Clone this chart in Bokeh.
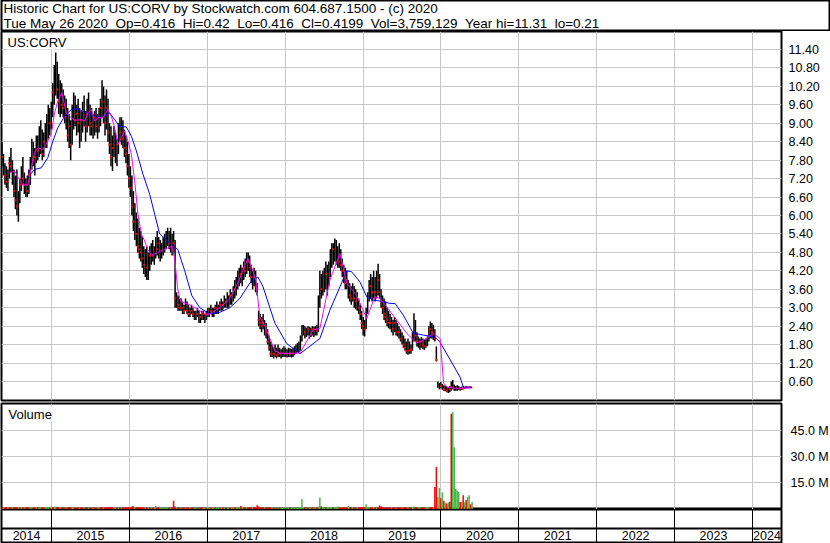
import pandas as pd
from bokeh.plotting import figure
from bokeh.layouts import column, row
from bokeh.models import (Range1d, FixedTicker, Grid, Label, ColumnDataSource,
                          PrintfTickFormatter, CustomJSTickFormatter, Span)
from bokeh.embed import file_html
from bokeh.resources import INLINE
from bokeh.core.properties import value

# ---------------- texts ----------------
TITLE_1 = "Historic Chart for US:CORV by Stockwatch.com 604.687.1500 - (c) 2020"
TITLE_2 = "Tue May 26 2020  Op=0.416  Hi=0.42  Lo=0.416  Cl=0.4199  Vol=3,759,129  Year hi=11.31  lo=0.21"
SYMBOL = "US:CORV"
VOL_LABEL = "Volume"

# ---------------- data (weekly) ----------------
first_week = "2014-05-13"
highs = [
    8.4, 8.0, 7.7, 7.6, 7.5, 7.9, 8.2, 7.8, 7.5, 7.3,
    7.5, 6.8, 7.2, 7.6, 7.9, 7.4, 7.2, 7.3, 7.5, 7.9,
    8.5, 8.4, 8.2, 8.6, 8.6, 8.9, 9.1, 8.8, 8.7, 9.0,
    9.3, 9.6, 9.5, 9.7, 10.3, 10.9, 11.3, 11.0, 10.6, 10.4,
    10.3, 10.1, 9.9, 9.8, 9.5, 9.3, 9.1, 9.6, 10.0, 9.9,
    9.6, 9.8, 9.5, 9.4, 9.7, 9.9, 9.4, 9.8, 10.0, 9.6,
    9.5, 9.3, 9.4, 9.5, 9.3, 9.5, 9.8, 10.4, 10.2, 9.9,
    10.1, 9.8, 9.0, 8.9, 8.6, 8.9, 8.7, 8.5, 9.0, 9.2,
    9.2, 9.1, 8.8, 8.6, 8.4, 8.0, 7.6, 7.3, 6.8, 6.4,
    6.1, 5.9, 5.6, 5.5, 5.3, 5.0, 4.9, 5.0, 4.8, 5.0,
    5.1, 5.2, 5.0, 5.3, 5.5, 5.3, 5.2, 5.1, 5.3, 5.4,
    5.5, 5.6, 5.5, 5.6, 5.4, 5.5, 5.2, 3.5, 3.4, 3.3,
    3.3, 3.2, 3.1, 3.3, 3.2, 3.1, 3.0, 3.1, 3.0, 2.9,
    2.9, 3.0, 2.9, 2.8, 2.9, 2.9, 2.8, 2.9, 3.0, 3.0,
    3.1, 3.0, 3.0, 3.1, 3.2, 3.1, 3.2, 3.3, 3.2, 3.4,
    3.3, 3.5, 3.4, 3.6, 3.5, 3.7, 3.9, 4.0, 4.2, 4.3,
    4.4, 4.3, 4.5, 4.6, 4.8, 4.8, 4.7, 4.4, 4.2, 4.3,
    4.2, 3.8, 2.9, 2.8, 2.7, 2.8, 2.6, 2.5, 2.3, 2.1,
    1.9, 1.8, 1.7, 1.8, 1.7, 1.8, 1.7, 1.65, 1.7, 1.75,
    1.7, 1.65, 1.7, 1.68, 1.66, 1.7, 1.75, 1.8, 1.85, 1.9,
    2.1, 2.44, 2.44, 2.4, 2.35, 2.4, 2.38, 2.35, 2.4, 2.38,
    2.4, 2.45, 3.4, 4.2, 4.1, 4.2, 4.3, 4.5, 4.4, 4.5,
    4.9, 5.1, 5.1, 5.25, 5.2, 5.0, 5.1, 4.9, 4.6, 4.4,
    4.3, 4.2, 3.9, 3.8, 3.7, 3.8, 3.7, 3.6, 3.5, 3.3,
    3.1, 2.9, 2.7, 2.6, 3.0, 3.5, 3.9, 4.1, 4.0, 4.2,
    4.0, 4.2, 4.43, 4.1, 3.6, 3.4, 3.3, 3.2, 3.0, 2.9,
    2.8, 2.7, 2.6, 2.7, 2.6, 2.5, 2.4, 2.3, 2.2, 2.1,
    2.0, 1.9, 2.0, 1.9, 1.8, 2.2, 2.82, 2.6, 2.2, 2.06,
    2.0, 2.05, 2.0, 1.95, 2.0, 2.06, 2.4, 2.55, 2.5, 2.45,
    2.3, 1.74, 0.6, 0.55, 0.58, 0.52, 0.48, 0.45, 0.42, 0.4,
    0.45, 0.6, 0.65, 0.5, 0.45, 0.48, 0.45, 0.42, 0.44, 0.45,
    0.43, 0.45, 0.44, 0.44, 0.43, 0.42]
lows = [
    7.6, 7.3, 7.0, 6.9, 6.8, 7.2, 7.4, 7.0, 6.6, 6.2,
    6.0, 5.8, 6.4, 6.8, 7.0, 6.7, 6.6, 6.6, 6.7, 7.0,
    7.5, 7.6, 7.3, 7.7, 7.8, 7.9, 8.0, 7.8, 7.9, 8.2,
    8.2, 8.5, 8.6, 8.8, 9.2, 9.6, 9.9, 9.8, 9.3, 9.2,
    9.3, 9.2, 9.0, 8.8, 8.4, 8.2, 7.8, 8.3, 8.8, 8.9,
    8.6, 8.7, 8.2, 8.4, 8.7, 8.9, 8.4, 8.7, 8.9, 8.6,
    8.6, 8.5, 8.6, 8.7, 8.5, 8.7, 8.9, 9.2, 9.0, 8.6,
    8.8, 8.4, 8.0, 7.6, 7.45, 7.9, 7.7, 7.6, 8.0, 8.4,
    8.3, 8.2, 7.9, 7.7, 7.3, 6.9, 6.6, 6.0, 5.5, 5.2,
    5.0, 4.8, 4.6, 4.5, 4.3, 4.1, 4.0, 3.9, 3.9, 4.2,
    4.4, 4.5, 4.4, 4.6, 4.7, 4.6, 4.5, 4.6, 4.7, 4.8,
    4.9, 5.0, 4.9, 4.8, 4.7, 4.8, 3.0, 3.0, 2.9, 2.9,
    2.9, 2.8, 2.8, 2.9, 2.8, 2.7, 2.7, 2.8, 2.7, 2.6,
    2.6, 2.7, 2.5, 2.5, 2.6, 2.6, 2.5, 2.6, 2.7, 2.7,
    2.8, 2.7, 2.7, 2.8, 2.8, 2.8, 2.9, 2.9, 2.9, 3.0,
    3.0, 3.0, 3.0, 3.1, 3.1, 3.2, 3.3, 3.4, 3.6, 3.7,
    3.8, 3.7, 3.9, 4.0, 4.1, 4.2, 4.0, 3.8, 3.6, 3.7,
    3.5, 3.4, 2.4, 2.3, 2.2, 2.3, 2.1, 2.0, 1.8, 1.6,
    1.4, 1.4, 1.35, 1.4, 1.35, 1.4, 1.4, 1.35, 1.4, 1.4,
    1.4, 1.38, 1.4, 1.4, 1.38, 1.4, 1.45, 1.5, 1.55, 1.55,
    1.6, 1.9, 2.1, 2.0, 2.05, 2.1, 2.0, 2.05, 2.1, 2.05,
    2.1, 2.1, 2.2, 3.0, 3.3, 3.4, 3.5, 3.6, 3.4, 3.7,
    4.0, 4.3, 4.4, 4.5, 4.4, 4.3, 4.3, 4.2, 4.0, 3.8,
    3.6, 3.6, 3.3, 3.2, 3.1, 3.2, 3.0, 2.95, 2.9, 2.8,
    2.6, 2.3, 2.1, 2.06, 2.3, 2.8, 3.2, 3.3, 3.2, 3.3,
    3.2, 3.3, 3.4, 3.3, 3.0, 2.8, 2.6, 2.5, 2.4, 2.33,
    2.3, 2.2, 2.1, 2.2, 2.1, 2.06, 2.0, 1.9, 1.8, 1.7,
    1.6, 1.5, 1.47, 1.5, 1.5, 1.6, 1.9, 1.9, 1.74, 1.7,
    1.63, 1.7, 1.65, 1.63, 1.7, 1.75, 1.9, 2.0, 2.0, 1.95,
    1.9, 1.25, 0.4, 0.35, 0.38, 0.33, 0.3, 0.28, 0.25, 0.23,
    0.25, 0.3, 0.35, 0.3, 0.3, 0.3, 0.32, 0.3, 0.32, 0.34,
    0.36, 0.38, 0.38, 0.39, 0.40, 0.41]
closes = [
    7.9, 7.5, 7.3, 7.1, 7.3, 7.7, 7.6, 7.2, 6.8, 6.5,
    6.3, 6.6, 7.0, 7.3, 7.2, 6.9, 7.0, 6.8, 7.3, 7.6,
    8.2, 7.8, 7.9, 8.3, 8.1, 8.5, 8.3, 8.0, 8.4, 8.7,
    8.8, 9.2, 9.0, 9.5, 10.0, 10.2, 10.6, 10.1, 9.7, 9.9,
    9.6, 9.5, 9.2, 9.0, 8.6, 8.9, 8.3, 9.2, 9.4, 9.1,
    9.3, 9.0, 8.8, 9.1, 9.4, 9.2, 8.9, 9.3, 9.2, 9.0,
    8.9, 9.0, 9.2, 8.9, 9.1, 9.3, 9.5, 9.7, 9.4, 9.0,
    9.5, 8.7, 8.3, 7.9, 8.2, 8.5, 8.0, 8.3, 8.8, 8.7,
    8.9, 8.5, 8.2, 8.0, 7.6, 7.2, 6.9, 6.3, 5.8, 5.5,
    5.4, 5.0, 4.9, 4.8, 4.6, 4.4, 4.6, 4.3, 4.5, 4.7,
    4.8, 4.7, 4.9, 5.0, 4.9, 5.1, 4.8, 4.9, 5.1, 5.0,
    5.2, 5.3, 5.1, 5.2, 5.0, 5.1, 3.3, 3.2, 3.1, 3.0,
    3.1, 3.0, 2.9, 3.0, 2.9, 2.8, 2.9, 2.9, 2.8, 2.7,
    2.8, 2.8, 2.6, 2.7, 2.8, 2.7, 2.7, 2.8, 2.9, 2.8,
    2.9, 2.8, 2.9, 3.0, 3.0, 2.9, 3.1, 3.0, 3.1, 3.2,
    3.2, 3.3, 3.2, 3.4, 3.3, 3.5, 3.6, 3.8, 3.9, 4.0,
    4.1, 4.2, 4.3, 4.2, 4.6, 4.5, 4.3, 4.0, 3.9, 4.0,
    3.7, 3.6, 2.6, 2.5, 2.4, 2.5, 2.2, 2.2, 1.9, 1.7,
    1.5, 1.6, 1.5, 1.6, 1.45, 1.6, 1.5, 1.5, 1.55, 1.6,
    1.5, 1.55, 1.6, 1.5, 1.55, 1.6, 1.6, 1.65, 1.7, 1.75,
    1.9, 2.2, 2.3, 2.2, 2.25, 2.3, 2.2, 2.25, 2.3, 2.2,
    2.3, 2.25, 3.1, 3.8, 3.6, 3.9, 4.0, 4.1, 3.8, 4.2,
    4.6, 4.7, 4.9, 4.8, 4.7, 4.6, 4.5, 4.4, 4.2, 4.0,
    3.8, 3.9, 3.5, 3.4, 3.3, 3.6, 3.3, 3.2, 3.1, 3.0,
    2.8, 2.5, 2.4, 2.3, 2.8, 3.3, 3.6, 3.7, 3.5, 3.8,
    3.5, 3.7, 3.9, 3.5, 3.2, 3.0, 2.8, 2.7, 2.6, 2.5,
    2.5, 2.4, 2.3, 2.5, 2.3, 2.2, 2.2, 2.0, 1.9, 1.8,
    1.7, 1.6, 1.7, 1.6, 1.65, 1.9, 2.4, 2.1, 1.9, 1.8,
    1.8, 1.9, 1.8, 1.75, 1.9, 1.95, 2.2, 2.3, 2.2, 2.3,
    2.0, 1.3, 0.45, 0.42, 0.45, 0.4, 0.36, 0.33, 0.3, 0.28,
    0.35, 0.42, 0.45, 0.38, 0.36, 0.4, 0.38, 0.36, 0.4, 0.4,
    0.4, 0.42, 0.41, 0.42, 0.42, 0.4199]
volume_m = [
    0.8, 0.6, 0.7, 0.9, 0.6, 0.8, 0.7, 0.6, 0.9, 0.7,
    1.0, 0.8, 0.6, 0.7, 0.8, 0.6, 0.7, 0.9, 0.6, 0.8,
    0.7, 0.6, 0.8, 0.7, 0.9, 0.6, 0.7, 0.8, 0.6, 0.7,
    0.8, 0.9, 0.7, 0.8, 1.0, 1.1, 1.2, 0.9, 0.8, 0.7,
    0.8, 0.6, 0.7, 0.8, 0.7, 0.9, 1.0, 0.8, 0.7, 0.6,
    0.7, 0.6, 0.8, 0.7, 0.6, 0.7, 0.6, 0.8, 0.7, 0.6,
    0.6, 0.7, 0.6, 0.5, 0.7, 0.6, 0.8, 0.9, 0.7, 0.6,
    0.7, 0.8, 0.7, 0.9, 0.8, 0.6, 0.7, 0.6, 0.7, 0.6,
    0.6, 0.7, 0.6, 0.7, 0.8, 0.9, 0.8, 1.2, 1.4, 1.0,
    0.9, 0.8, 0.7, 0.8, 0.7, 0.6, 0.8, 0.9, 0.7, 0.6,
    0.6, 0.7, 0.6, 1.5, 0.7, 0.6, 0.5, 0.6, 0.7, 0.6,
    0.6, 0.7, 0.6, 0.7, 0.8, 4.6, 1.3, 0.9, 0.7, 0.6,
    0.6, 0.5, 0.6, 0.5, 0.6, 0.5, 0.6, 0.5, 0.6, 0.5,
    0.5, 0.6, 0.5, 0.6, 0.5, 0.5, 0.6, 0.5, 0.6, 0.5,
    0.5, 0.6, 0.5, 0.6, 0.5, 0.6, 0.5, 0.6, 0.6, 0.7,
    0.6, 0.7, 0.6, 0.7, 0.8, 0.7, 0.8, 0.9, 0.8, 0.9,
    1.5, 0.8, 0.7, 0.8, 0.9, 0.8, 0.7, 0.6, 0.7, 0.8,
    0.9, 2.0, 1.2, 0.8, 0.7, 0.6, 0.7, 0.6, 0.7, 0.8,
    0.7, 0.6, 0.5, 0.6, 0.5, 0.6, 0.5, 0.6, 0.5, 0.6,
    0.5, 0.6, 0.5, 0.6, 0.5, 0.6, 0.7, 0.6, 0.7, 0.8,
    1.0, 5.5, 1.0, 0.8, 0.7, 0.6, 0.7, 0.6, 0.7, 0.6,
    0.7, 0.8, 1.2, 6.4, 1.4, 0.9, 0.8, 0.7, 0.8, 0.7,
    0.8, 0.9, 0.8, 0.9, 0.8, 1.2, 0.7, 0.6, 0.7, 0.8,
    0.7, 0.8, 1.5, 0.7, 0.6, 0.7, 0.6, 0.5, 0.6, 0.7,
    0.8, 0.9, 0.8, 0.9, 2.6, 1.1, 0.9, 0.8, 0.7, 0.8,
    0.7, 0.8, 1.0, 1.8, 1.4, 0.8, 0.7, 0.6, 0.7, 0.6,
    0.7, 0.6, 0.8, 0.7, 0.6, 0.9, 0.7, 0.8, 0.7, 0.6,
    0.7, 0.8, 0.9, 0.7, 0.8, 1.0, 1.2, 0.9, 0.8, 0.7,
    0.8, 0.7, 0.6, 0.7, 0.8, 0.7, 0.9, 1.0, 0.9, 1.0,
    12.5, 24.0, 6.7, 11.9, 6.0, 9.4, 4.5, 3.5, 3.0, 3.5,
    4.0, 54.8, 55.7, 35.5, 11.5, 10.5, 9.6, 3.8, 4.0, 7.7,
    3.5, 5.0, 6.7, 7.7, 2.5, 3.8]
# u = up week (green volume), d = down week (red volume / red close mark)
vol_dir = ("dudduddudd" "dudududddu" "udduduuddu" "uududuuddu" "ddduddduud"
           "ddudduddud" "dudduuddud" "ddddduudud" "uddddddddu" "ddddddudud"
           "uduudduuuu" "uududddudd" "uddudduddu" "ududduuduu" "duuduududu"
           "duuduuduuu" "duddudddud" "dddddduddd" "dudududuuu" "duuduuuuuu"
           "uuududuudu" "uduuduuduu" "uuduuudddd" "ddudduddud" "dddduuuddu"
           "dudddddddd" "duddudddud" "ddudduuddu" "uddduuuddu" "dduudududu"
           "dduuuuudud" "uduudu")

# short moving average (magenta) and long moving average (blue)
ma_fast_x = [2014.460, 2014.524, 2014.588, 2014.631, 2014.695, 2014.739, 2014.781, 2014.824,
             2014.888, 2014.952, 2014.996, 2015.038, 2015.081, 2015.132, 2015.189, 2015.231,
             2015.296, 2015.382, 2015.424, 2015.467, 2015.510, 2015.553, 2015.595, 2015.660,
             2015.724, 2015.767, 2015.810, 2015.852, 2015.896, 2015.939, 2015.981, 2016.025,
             2016.067, 2016.110, 2016.153, 2016.196, 2016.234, 2016.286, 2016.363, 2016.453,
             2016.543, 2016.581, 2016.620, 2016.659, 2016.774, 2016.903, 2016.993, 2017.096,
             2017.186, 2017.289, 2017.391, 2017.456, 2017.520, 2017.571, 2017.623, 2017.674,
             2017.739, 2017.803, 2017.868, 2017.932, 2018.189, 2018.360, 2018.446, 2018.574,
             2018.703, 2018.789, 2018.918, 2019.046, 2019.153, 2019.217, 2019.303, 2019.432,
             2019.560, 2019.689, 2019.817, 2019.902, 2019.963, 2019.989, 2020.034, 2020.078,
             2020.181, 2020.400]
ma_fast_y = [7.39, 7.45, 7.17, 6.99, 6.99, 7.55, 8.05, 8.20,
             8.15, 8.42, 8.64, 9.34, 9.72, 10.00, 9.34, 9.23,
             9.10, 9.12, 9.07, 9.34, 9.45, 9.07, 9.18, 9.18,
             9.45, 9.23, 8.86, 8.31, 8.53, 8.75, 8.42, 7.99,
             7.12, 6.04, 5.39, 5.17, 4.90, 4.70, 4.80, 4.90,
             5.00, 4.60, 3.60, 3.20, 3.10, 2.90, 2.75, 2.90,
             3.05, 3.30, 3.80, 4.20, 4.60, 4.30, 3.90, 2.70,
             2.40, 2.00, 1.60, 1.52, 1.52, 2.28, 2.33, 3.90,
             4.76, 3.80, 3.40, 2.65, 3.36, 3.30, 3.03, 2.60,
             2.17, 1.85, 2.00, 2.17, 2.05, 2.00, 0.55, 0.42,
             0.38, 0.39]
ma_slow_x = [2014.695, 2014.781, 2014.867, 2014.952, 2015.017, 2015.081, 2015.167, 2015.253,
             2015.338, 2015.446, 2015.553, 2015.639, 2015.746, 2015.810, 2015.874, 2015.960,
             2016.025, 2016.089, 2016.174, 2016.260, 2016.324, 2016.388, 2016.517, 2016.620,
             2016.710, 2016.800, 2016.903, 2017.031, 2017.160, 2017.289, 2017.417, 2017.546,
             2017.649, 2017.713, 2017.803, 2017.868, 2017.932, 2018.017, 2018.189, 2018.446,
             2018.574, 2018.703, 2018.789, 2018.853, 2018.960, 2019.046, 2019.131, 2019.259,
             2019.346, 2019.410, 2019.516, 2019.645, 2019.774, 2019.924, 2019.989, 2020.246,
             2020.288, 2020.400]
ma_slow_y = [7.23, 7.50, 7.55, 7.88, 8.42, 8.86, 9.23, 9.45,
             9.47, 9.34, 9.23, 9.18, 9.34, 9.12, 8.90, 8.88,
             8.58, 8.10, 7.34, 6.69, 6.04, 5.40, 5.10, 4.90,
             4.20, 3.40, 3.00, 2.80, 2.85, 3.00, 3.30, 3.80,
             4.00, 3.70, 3.00, 2.50, 2.22, 1.84, 1.50, 2.00,
             2.92, 3.68, 4.20, 4.17, 3.84, 3.36, 3.25, 3.20,
             3.14, 3.14, 2.76, 2.17, 2.11, 2.04, 1.88, 0.74,
             0.41, 0.41]

price_ticks = [0.6, 1.2, 1.8, 2.4, 3.0, 3.6, 4.2, 4.8, 5.4, 6.0,
               6.6, 7.2, 7.8, 8.4, 9.0, 9.6, 10.2, 10.8, 11.4]
volume_ticks = [15e6, 30e6, 45e6]
years = list(range(2014, 2025))
x_start, x_end = 2014.357, 2024.373
price_lo, price_hi = -0.018, 11.986
volume_lo, volume_hi = -0.5e6, 60.7e6

# ---------------- derived series ----------------
n = min(len(highs), len(lows), len(closes), len(volume_m), len(vol_dir))
dates = pd.date_range(first_week, periods=n, freq="7D")
xs = [d.year + (d.dayofyear - 0.5) / (366 if d.is_leap_year else 365) for d in dates]
UP_GREEN = "#4cb848"
DOWN_RED = "#ff0000"
src = ColumnDataSource(dict(
    x=xs, hi=highs[:n], lo=lows[:n], cl=closes[:n],
    vol=[v_ * 1e6 for v_ in volume_m[:n]], base=[volume_lo] * n,
    vcol=[UP_GREEN if c == "u" else DOWN_RED for c in vol_dir[:n]],
))
down_idx = [i for i in range(n) if vol_dir[i] == "d"]
src_down = ColumnDataSource(dict(x=[xs[i] for i in down_idx], cl=[closes[i] for i in down_idx]))

# ---------------- layout ----------------
FONT = "Liberation Sans"
FW = 780          # frame width
LAB = 47          # label column
GRID = "#c8c8c8"
x_range = Range1d(x_start, x_end)


def panel(frame_h, y_range, mb_top, mb_bottom, axis=True):
    f = figure(frame_width=FW, frame_height=frame_h, x_range=x_range, y_range=y_range,
               x_axis_location=None, y_axis_location="right" if axis else None,
               toolbar_location=None, output_backend="svg",
               min_border_left=1, min_border_right=LAB,
               min_border_top=mb_top, min_border_bottom=mb_bottom)
    f.outline_line_color = "black"
    f.outline_line_width = 2
    f.outline_line_alpha = 1.0
    f.background_fill_color = "white"
    f.border_fill_color = "white"
    for g in f.grid:
        g.visible = False
    return f


def style_axis(f, ticks, formatter, standoff):
    ax = f.yaxis[0]
    ax.ticker = FixedTicker(ticks=ticks)
    ax.formatter = formatter
    ax.axis_line_color = None
    ax.major_tick_line_color = None
    ax.minor_tick_line_color = None
    ax.major_tick_out = 0
    ax.major_tick_in = 0
    ax.major_label_standoff = standoff
    ax.major_label_text_font = FONT
    ax.major_label_text_font_size = "12.5px"
    ax.major_label_text_color = "#000000"


# header
HH = 31
hdr = figure(frame_width=FW + LAB + 1, frame_height=HH, x_range=Range1d(0, 1), y_range=Range1d(0, 1),
             x_axis_location=None, y_axis_location=None, toolbar_location=None,
             output_backend="svg", min_border_left=1, min_border_right=1,
             min_border_top=0, min_border_bottom=0)
for g in hdr.grid:
    g.visible = False
hdr.outline_line_color = "black"
hdr.outline_line_width = 2
hdr.add_layout(Label(x=2, y=HH - 8, x_units="screen", y_units="screen", text=TITLE_1,
                     text_font=FONT, text_font_size="13.5px", text_baseline="middle",
                     text_color="black"))
hdr.add_layout(Label(x=2, y=HH - 23, x_units="screen", y_units="screen",
                     text=TITLE_2.replace("  ", " \u00a0"),
                     text_font=FONT, text_font_size="13.5px", text_baseline="middle",
                     text_color="black"))

# price panel
PH = 369
p = panel(PH, Range1d(price_lo, price_hi), 0, 2)
style_axis(p, price_ticks, PrintfTickFormatter(format="%.2f"), 7)
p.add_layout(Grid(dimension=0, ticker=FixedTicker(ticks=years), grid_line_color=GRID, grid_line_width=1))
p.add_layout(Grid(dimension=1, ticker=FixedTicker(ticks=price_ticks), grid_line_color=GRID, grid_line_width=1))
p.segment(x0="x", y0="lo", x1="x", y1="hi", source=src, line_color="black", line_width=1.5)
p.rect(x="x", y="cl", width=2, height=2, width_units="screen", height_units="screen",
       source=src_down, fill_color=DOWN_RED, line_color=None)
p.line(ma_slow_x, ma_slow_y, line_color="#0000ff", line_width=1)
p.line(ma_fast_x, ma_fast_y, line_color="#ff00ff", line_width=1)
p.add_layout(Label(x=6, y=PH - 3, x_units="screen", y_units="screen", text=SYMBOL,
                   text_font=FONT, text_font_size="13px", text_baseline="top",
                   text_color="black", background_fill_color="white"))

# volume panel
VH = 106
v = panel(VH, Range1d(volume_lo, volume_hi), 1, 0)
style_axis(v, volume_ticks, CustomJSTickFormatter(code="return (tick / 1e6).toFixed(1) + ' M';"), 9)
v.add_layout(Grid(dimension=0, ticker=FixedTicker(ticks=years), grid_line_color=GRID, grid_line_width=1))
v.add_layout(Grid(dimension=1, ticker=FixedTicker(ticks=volume_ticks), grid_line_color=GRID, grid_line_width=1))
v.segment(x0="x", y0="base", x1="x", y1="vol", source=src, line_color="vcol", line_width=1.5)
v.add_layout(Label(x=7, y=VH - 3, x_units="screen", y_units="screen", text=VOL_LABEL,
                   text_font=FONT, text_font_size="13px", text_baseline="top",
                   text_color="black", background_fill_color="white"))

# date strip
DH = 33
d = panel(DH, Range1d(0, DH), 0, 1, axis=False)
d.add_layout(Grid(dimension=0, ticker=FixedTicker(ticks=years), grid_line_color="black", grid_line_width=1))
d.add_layout(Span(location=14, dimension="width", line_color="black", line_width=2))
centers = [(max(y, x_start) + min(y + 1, x_end)) / 2 for y in years]
d.text(x=centers, y=[7] * len(years), text=[str(y) for y in years],
       text_align="center", text_baseline="middle",
       text_font=value(FONT), text_font_size="12.5px", text_color="black")

# right border bar
total_h = (PH + 2) + (VH + 1) + (DH + 1)
bar = figure(frame_width=2, frame_height=total_h, x_range=Range1d(0, 1), y_range=Range1d(0, 1),
             x_axis_location=None, y_axis_location=None, toolbar_location=None,
             output_backend="svg", min_border=0)
for g in bar.grid:
    g.visible = False
bar.background_fill_color = "black"
bar.border_fill_color = "black"
bar.outline_line_color = None

layout = column(hdr, row(column(p, v, d, spacing=0), bar, spacing=0), spacing=0)

open("out.html", "w").write(file_html(layout, INLINE))
